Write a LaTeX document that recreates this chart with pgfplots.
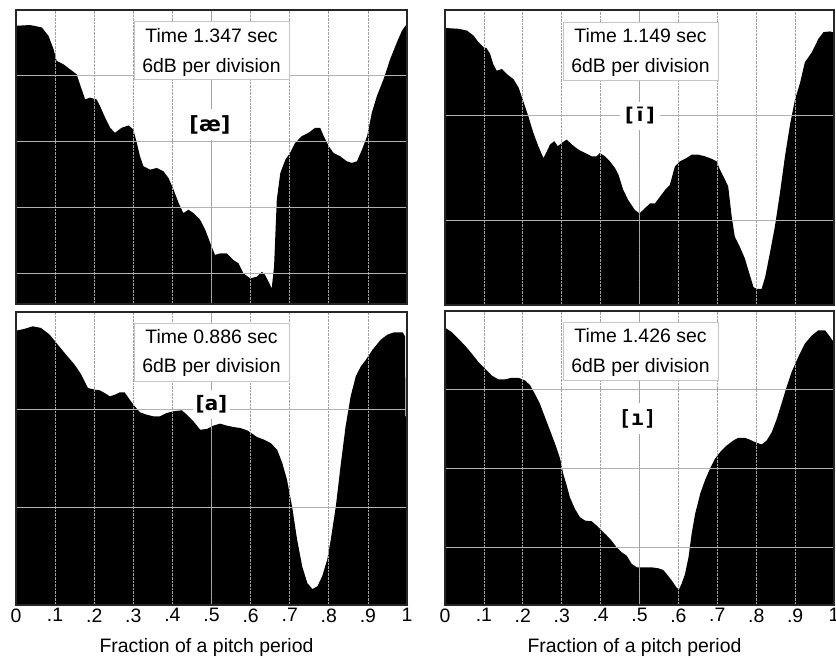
\documentclass[border=0pt]{standalone}
\usepackage{pgfplots}
\pgfplotsset{compat=1.18}
\usepackage{fontspec}
\setmainfont{Liberation Sans}
\newfontfamily\ipafont{DejaVu Sans}
\newfontfamily\ipamono{DejaVu Sans Mono}

\pgfplotsset{
  panel/.style={
    scale only axis, anchor=south west,
    xmin=0, xmax=1, ymax=0,
    axis on top,
    xtick={0,0.1,0.2,0.3,0.4,0.5,0.6,0.7,0.8,0.9,1},
    xticklabels={},
    yticklabels={},
    major tick length=0pt,
    xmajorgrids, ymajorgrids,
    x grid style={densely dotted, gray!75, line width=0.7bp},
    y grid style={solid, gray!60, line width=0.9bp},
    axis line style={black!85, line width=2bp},
  },
  bottompanel/.style={
    xticklabels={0,.1,.2,.3,.4,.5,.6,.7,.8,.9,1},
    xticklabel style={font=\fontsize{19.5}{20}\selectfont},
    xlabel={Fraction of a pitch period},
    xlabel style={at={(axis description cs:0.5,0)}, anchor=north,
      yshift=-30bp, xshift=-5bp, font=\fontsize{19.5}{20}\selectfont},
  },
  spec/.style={fill=black, draw=none},
}
\tikzset{
  box/.style={draw=gray!45, line width=0.8bp, fill=white,
    minimum width=155bp, minimum height=58bp, inner sep=0pt},
  txt/.style={font=\fontsize{19.5}{20}\selectfont, inner sep=0pt, anchor=base},
  vowel/.style={fill=white, inner xsep=3bp, inner ysep=6bp},
}

\begin{document}
\begin{tikzpicture}
\useasboundingbox (0,0) rectangle (836bp,658bp);

% top left: [ae]
\begin{axis}[panel, at={(16bp,354bp)}, width=391bp, height=294bp,
  ymin=-26.8, ytick={-24,-18,-12,-6}]
\addplot[spec] coordinates {
(0,-30) (0,-1.43) (0.006,-1.43) (0.036,-1.37) (0.066,-1.59) (0.083,-2.35)
(0.096,-3.57) (0.104,-4.64) (0.121,-4.94) (0.138,-5.40) (0.155,-5.86)
(0.168,-7.23) (0.177,-8.15) (0.189,-7.99) (0.206,-8.15) (0.215,-8.76)
(0.228,-9.82) (0.241,-10.74) (0.253,-11.20) (0.270,-10.74) (0.288,-10.52)
(0.300,-10.89) (0.309,-12.11) (0.317,-13.33) (0.326,-14.25) (0.343,-14.55)
(0.360,-14.40) (0.377,-14.70) (0.390,-15.31) (0.403,-16.38) (0.416,-17.60)
(0.428,-18.52) (0.441,-18.21) (0.454,-18.52) (0.471,-19.13) (0.484,-20.04)
(0.497,-21.26) (0.509,-22.33) (0.522,-22.18) (0.539,-22.18) (0.556,-22.79)
(0.569,-23.09) (0.582,-24.01) (0.599,-24.47) (0.616,-24.31) (0.629,-23.86)
(0.637,-24.16) (0.646,-24.77) (0.654,-25.38) (0.660,-23.40) (0.667,-17.30)
(0.676,-14.86) (0.689,-13.64) (0.701,-13.03) (0.714,-12.11) (0.731,-11.50)
(0.748,-11.20) (0.765,-10.74) (0.778,-10.74) (0.787,-11.50) (0.800,-12.42)
(0.812,-13.03) (0.829,-13.33) (0.846,-13.79) (0.859,-13.94) (0.872,-13.79)
(0.885,-12.72) (0.898,-11.50) (0.910,-9.37) (0.923,-7.84) (0.940,-6.31)
(0.957,-4.48) (0.974,-2.96) (0.987,-1.89) (0.996,-1.43) (1,-1.40) (1,-30)
};
\draw[gray!65, line width=0.9bp] (axis cs:0.5,-40) -- (axis cs:0.5,0);
\end{axis}

% top right: [i]
\begin{axis}[panel, at={(445bp,353bp)}, width=389bp, height=295bp,
  ymin=-16.8, ytick={-12,-6}]
\addplot[spec] coordinates {
(0,-30) (0,-1.03) (0.004,-1.03) (0.034,-1.07) (0.056,-1.17) (0.073,-1.45)
(0.086,-1.83) (0.099,-2.12) (0.107,-2.18) (0.116,-2.50) (0.124,-3.08)
(0.133,-3.46) (0.146,-3.36) (0.159,-3.65) (0.176,-3.94) (0.189,-4.41)
(0.201,-5.18) (0.214,-6.04) (0.227,-6.99) (0.240,-7.76) (0.253,-8.43)
(0.260,-8.14) (0.270,-7.66) (0.281,-7.47) (0.290,-7.76) (0.300,-7.57)
(0.313,-7.38) (0.326,-7.66) (0.343,-7.95) (0.360,-8.14) (0.377,-8.33)
(0.390,-8.33) (0.398,-8.14) (0.411,-8.33) (0.424,-8.62) (0.437,-9.00)
(0.446,-9.38) (0.458,-10.24) (0.471,-10.82) (0.488,-11.39) (0.500,-11.58)
(0.514,-11.29) (0.527,-11.01) (0.540,-11.01) (0.553,-10.62) (0.566,-10.24)
(0.578,-9.96) (0.591,-8.91) (0.604,-8.62) (0.621,-8.43) (0.634,-8.24)
(0.651,-8.24) (0.668,-8.33) (0.686,-8.48) (0.698,-8.62) (0.707,-9.10)
(0.720,-9.67) (0.728,-10.05) (0.737,-11.77) (0.745,-12.92) (0.758,-13.49)
(0.771,-14.16) (0.780,-14.83) (0.793,-15.78) (0.801,-15.88) (0.814,-15.88)
(0.823,-15.21) (0.835,-13.87) (0.848,-12.34) (0.861,-10.43) (0.874,-8.33)
(0.887,-6.52) (0.900,-5.08) (0.913,-4.13) (0.925,-2.98) (0.943,-2.41)
(0.960,-1.64) (0.973,-1.26) (0.990,-1.22) (0.996,-1.26) (1,-1.30) (1,-30)
};
\draw[gray!65, line width=0.9bp] (axis cs:0.5,-40) -- (axis cs:0.5,0);
\end{axis}

% bottom left: [a]
\begin{axis}[panel, bottompanel, at={(16bp,53bp)}, width=391bp, height=293bp,
  ymin=-18, ytick={-12,-6}]
\addplot[spec] coordinates {
(0,-30) (0,-1.13) (0.004,-1.13) (0.021,-1.04) (0.043,-0.88) (0.064,-0.98)
(0.086,-1.39) (0.107,-2.01) (0.128,-2.62) (0.150,-3.24) (0.167,-3.85)
(0.184,-4.67) (0.201,-4.77) (0.214,-4.81) (0.227,-4.98) (0.240,-5.18)
(0.253,-5.08) (0.265,-4.94) (0.278,-4.94) (0.291,-5.39) (0.304,-5.80)
(0.317,-6.16) (0.334,-6.31) (0.351,-6.41) (0.368,-6.41) (0.385,-6.21)
(0.402,-6.10) (0.424,-6.04) (0.437,-6.31) (0.454,-6.72) (0.471,-7.23)
(0.488,-7.19) (0.505,-6.98) (0.522,-6.86) (0.539,-6.98) (0.557,-7.07)
(0.574,-7.13) (0.591,-7.27) (0.604,-7.47) (0.616,-7.68) (0.634,-7.84)
(0.651,-8.05) (0.668,-8.46) (0.681,-9.28) (0.693,-10.30) (0.706,-11.94)
(0.719,-13.99) (0.732,-15.63) (0.745,-16.65) (0.758,-17.02) (0.771,-16.85)
(0.783,-16.24) (0.796,-15.22) (0.805,-13.99) (0.818,-11.94) (0.830,-9.48)
(0.843,-7.02) (0.856,-5.18) (0.869,-3.95) (0.882,-3.34) (0.895,-2.93)
(0.912,-2.31) (0.933,-1.70) (0.950,-1.39) (0.967,-1.25) (0.989,-1.25)
(0.995,-1.49) (0.996,-6.41) (1,-6.41) (1,-30)
};
\draw[gray!65, line width=0.9bp] (axis cs:0.5,-40) -- (axis cs:0.5,0);
\end{axis}

% bottom right: [I]
\begin{axis}[panel, bottompanel, at={(445bp,53bp)}, width=389bp, height=294bp,
  ymin=-22.4, ytick={-18,-12,-6}]
\addplot[spec] coordinates {
(0,-30) (0,-1.30) (0.004,-1.35) (0.017,-1.60) (0.034,-2.11) (0.051,-2.62)
(0.069,-3.25) (0.086,-3.89) (0.103,-4.40) (0.120,-4.91) (0.137,-5.21)
(0.154,-5.21) (0.171,-5.09) (0.189,-5.09) (0.206,-5.29) (0.219,-5.67)
(0.231,-6.31) (0.244,-7.07) (0.257,-8.09) (0.270,-9.10) (0.283,-10.12)
(0.296,-11.26) (0.304,-12.41) (0.313,-13.30) (0.321,-14.19) (0.334,-15.08)
(0.347,-15.71) (0.360,-15.97) (0.377,-16.02) (0.390,-16.35) (0.403,-16.73)
(0.416,-17.11) (0.428,-17.49) (0.441,-18.00) (0.454,-18.38) (0.467,-18.64)
(0.480,-19.27) (0.493,-19.53) (0.514,-19.53) (0.531,-19.53) (0.548,-19.60)
(0.561,-19.73) (0.570,-20.04) (0.583,-20.54) (0.596,-21.10) (0.602,-21.18)
(0.608,-20.80) (0.617,-20.04) (0.626,-18.76) (0.634,-16.98) (0.643,-15.46)
(0.656,-13.93) (0.668,-12.92) (0.681,-12.03) (0.694,-11.26) (0.707,-10.76)
(0.724,-10.25) (0.741,-9.87) (0.754,-9.66) (0.771,-9.66) (0.784,-9.81)
(0.797,-9.99) (0.814,-10.17) (0.827,-9.87) (0.840,-9.23) (0.853,-8.21)
(0.865,-7.07) (0.878,-5.80) (0.891,-4.65) (0.908,-3.51) (0.925,-2.49)
(0.943,-1.86) (0.960,-1.47) (0.977,-1.47) (0.990,-1.98) (0.996,-2.24)
(1,-2.30) (1,-30)
};
\draw[gray!65, line width=0.9bp] (axis cs:0.5,-40) -- (axis cs:0.5,0);
\end{axis}

% info boxes
\node[box] at (211.5bp,608bp) {};
\node[txt] at (211.5bp,615bp) {Time 1.347 sec};
\node[txt] at (211.5bp,585bp) {6dB per division};
\node[box] at (640.5bp,607bp) {};
\node[txt] at (640.5bp,615bp) {Time 1.149 sec};
\node[txt] at (640.5bp,585bp) {6dB per division};
\node[box] at (211.5bp,306bp) {};
\node[txt] at (211.5bp,314bp) {Time 0.886 sec};
\node[txt] at (211.5bp,285bp) {6dB per division};
\node[box] at (640.5bp,307bp) {};
\node[txt] at (640.5bp,315bp) {Time 1.426 sec};
\node[txt] at (640.5bp,285bp) {6dB per division};

% vowel labels
\node[vowel, font=\ipafont\bfseries\fontsize{21}{22}\selectfont] at (210bp,533.5bp) {[æ]};
\node[vowel, inner xsep=5bp, font=\ipafont\bfseries\fontsize{19}{22}\selectfont] at (640bp,542bp) {[\hspace{3bp}ī\hspace{3bp}]};
\node[vowel, font=\ipafont\bfseries\fontsize{20}{22}\selectfont] at (211.5bp,253.5bp) {[a]};
\node[vowel, font=\ipamono\bfseries\fontsize{21}{22}\selectfont] at (637.5bp,239.5bp) {[ı]};
\end{tikzpicture}
\end{document}
